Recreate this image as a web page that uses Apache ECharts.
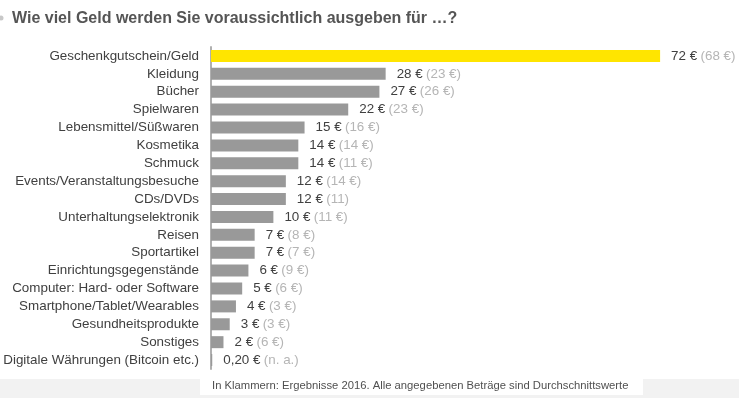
<!DOCTYPE html>
<html>
<head>
<meta charset="utf-8">
<script src="https://cdn.jsdelivr.net/npm/echarts@6/dist/echarts.min.js"></script>
<style>
  html, body { margin: 0; padding: 0; background: #fff; }
  #chart { width: 739px; height: 398px; }
</style>
</head>
<body>
<div id="chart"></div>
<script>
const categories = [
  "Geschenkgutschein/Geld", "Kleidung", "Bücher", "Spielwaren",
  "Lebensmittel/Süßwaren", "Kosmetika", "Schmuck", "Events/Veranstaltungsbesuche",
  "CDs/DVDs", "Unterhaltungselektronik", "Reisen", "Sportartikel",
  "Einrichtungsgegenstände", "Computer: Hard- oder Software",
  "Smartphone/Tablet/Wearables", "Gesundheitsprodukte", "Sonstiges",
  "Digitale Währungen (Bitcoin etc.)"
];
const values2018 = [72, 28, 27, 22, 15, 14, 14, 12, 12, 10, 7, 7, 6, 5, 4, 3, 2, 0.2];
const valueLabels = ["72 €", "28 €", "27 €", "22 €", "15 €", "14 €", "14 €", "12 €", "12 €",
  "10 €", "7 €", "7 €", "6 €", "5 €", "4 €", "3 €", "2 €", "0,20 €"];
const labels2016 = ["68 €", "23 €", "26 €", "23 €", "16 €", "14 €", "11 €", "14 €", "11",
  "11 €", "8 €", "7 €", "9 €", "6 €", "3 €", "3 €", "6 €", "n. a."];

const chart = echarts.init(document.getElementById("chart"));
const font = "Liberation Sans, Arial, sans-serif";

chart.setOption({
  animation: false,
  textStyle: { fontFamily: font },
  title: {
    text: "Wie viel Geld werden Sie voraussichtlich ausgeben für …?",
    left: 7,
    top: 6,
    textStyle: { fontSize: 16, fontWeight: "bold", color: "#555555", fontFamily: font }
  },
  grid: { left: 211, right: 29, top: 47, bottom: 29 },
  xAxis: {
    type: "value",
    min: 0,
    max: 80,
    show: false
  },
  yAxis: {
    type: "category",
    inverse: true,
    data: categories,
    axisTick: { show: false },
    axisLine: { show: true, lineStyle: { color: "#b0b0b0", width: 2 } },
    axisLabel: { color: "#404040", fontSize: 13.4, margin: 12, fontFamily: font }
  },
  series: [{
    type: "bar",
    barWidth: 12,
    data: values2018.map((v, i) => ({
      value: v,
      itemStyle: { color: i === 0 ? "#ffe500" : "#999999" }
    })),
    label: {
      show: true,
      position: "right",
      distance: 11,
      formatter: (p) => "{a|" + valueLabels[p.dataIndex] + "} {b|(" + labels2016[p.dataIndex] + ")}",
      rich: {
        a: { color: "#404040", fontSize: 13.4, fontFamily: font },
        b: { color: "#b5b5b5", fontSize: 13.4, fontFamily: font }
      }
    }
  }],
  graphic: [
    { type: "circle", shape: { cx: 1, cy: 18, r: 2.5 }, style: { fill: "#c8c8c8" } },
    { type: "rect", shape: { x: 0, y: 379, width: 739, height: 19 }, style: { fill: "#f2f2f2" } },
    { type: "rect", shape: { x: 200, y: 379, width: 443, height: 16 }, style: { fill: "#ffffff" } },
    {
      type: "text", left: 212, top: 380,
      style: {
        text: "In Klammern: Ergebnisse 2016. Alle angegebenen Beträge sind Durchschnittswerte",
        fill: "#505050", font: "11.25px " + font
      }
    }
  ]
});
</script>
</body>
</html>
